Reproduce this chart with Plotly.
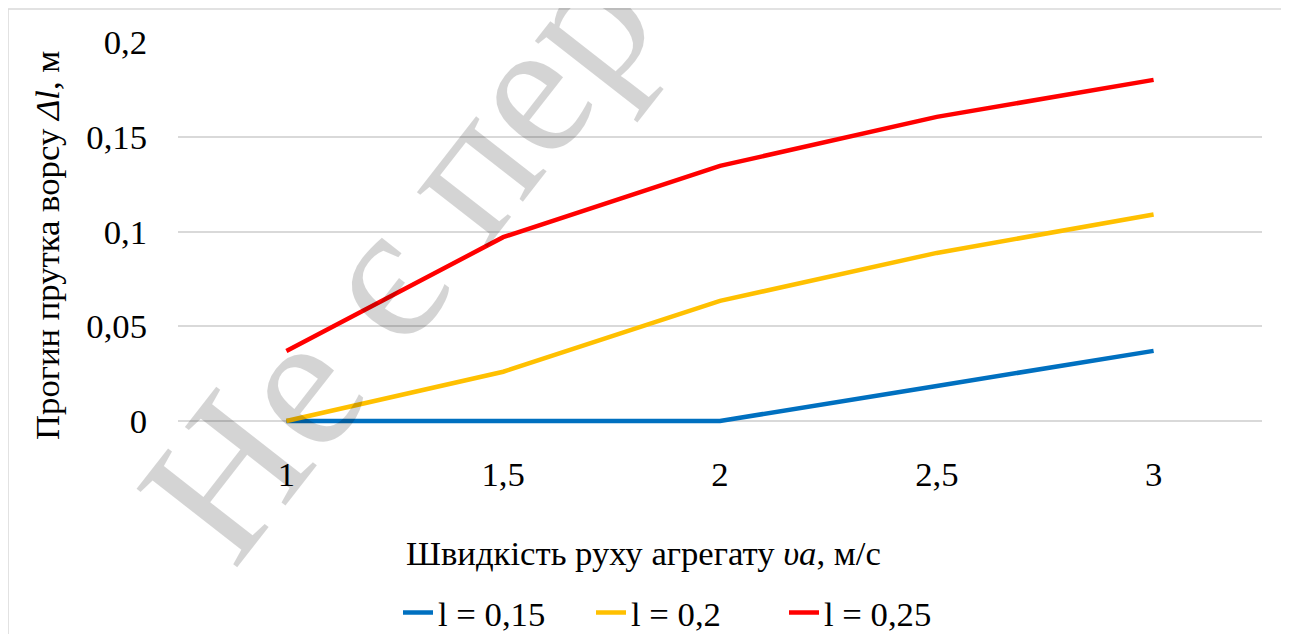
import plotly.graph_objects as go

speed = [1, 1.5, 2, 2.5, 3]
speed_labels = ["1", "1,5", "2", "2,5", "3"]
l_015 = [0, 0, 0, 0.0185, 0.037]
l_020 = [0, 0.026, 0.0634, 0.0887, 0.109]
l_025 = [0.037, 0.097, 0.1346, 0.1605, 0.18]
series_names = ["l = 0,15", "l = 0,2", "l = 0,25"]
y_ticks = [0, 0.05, 0.1, 0.15, 0.2]
y_tick_labels = ["0", "0,05", "0,1", "0,15", "0,2"]

colors = ["#0070C0", "#FFC000", "#FF0000"]
FONT = "Liberation Serif, Times New Roman, serif"
FS = 34.7

OFF = 8  # page body margin offset of the figure in the window
W, H = 1289, 634
# plot area in window (screen) pixels; y=0 sits at 421, 3px extra below so the
# zero line is not half clipped
SX0, SX1, SY0, Y0PIX = 178, 1262, 42, 421
EXTRA = 3
SY1 = Y0PIX + EXTRA
YMAX = 0.2
YMIN = -EXTRA * YMAX / (Y0PIX - SY0)
L = SX0 - OFF
R = W - (SX1 - OFF)
T = SY0 - OFF
B = H - (SY1 - OFF)


def px(xs):
    return (xs - SX0) / (SX1 - SX0)


def py(ys):
    return (SY1 - ys) / (SY1 - SY0)


fig = go.Figure()
for name, vals, c in zip(series_names, [l_015, l_020, l_025], colors):
    fig.add_trace(go.Scatter(x=speed, y=vals, mode="lines", name=name,
                             line=dict(color=c, width=4.5)))

fig.update_layout(
    width=W, height=H,
    margin=dict(l=L, r=R, t=T, b=B),
    paper_bgcolor="white", plot_bgcolor="white",
    font=dict(family=FONT, size=FS, color="black"),
    showlegend=True,
    legend=dict(orientation="h", xref="paper", x=px(398), xanchor="left",
                yref="container", y=1 - (613 - OFF) / H, yanchor="middle",
                font=dict(size=FS), entrywidth=148, traceorder="normal",
                bgcolor="rgba(0,0,0,0)"),
    xaxis=dict(range=[0.75, 3.25], tickvals=speed, ticktext=speed_labels,
               showgrid=False, zeroline=False, showline=False, ticks="",
               ticklabelstandoff=29 - EXTRA, automargin=False),
    yaxis=dict(range=[YMIN, YMAX], tickvals=y_ticks, ticktext=y_tick_labels,
               showgrid=True, gridcolor="#d9d9d9", gridwidth=1.5,
               zeroline=False, showline=False, ticks="",
               ticklabelstandoff=30, automargin=False),
    shapes=[dict(type="rect", xref="paper", yref="paper",
                 x0=px(8), x1=px(1400), y0=py(9), y1=py(700),
                 line=dict(color="#d9d9d9", width=1.5), layer="below")],
    annotations=[
        dict(text="Швидкість руху агрегату <i>υa</i>, м/с", xref="paper", yref="paper",
             x=px(643), y=py(553), xanchor="center", yanchor="middle", showarrow=False,
             font=dict(size=FS)),
        dict(text="Прогин прутка ворсу <i>Δl</i>, м", xref="paper", yref="paper",
             x=px(47), y=py(246), xanchor="center", yanchor="middle", showarrow=False,
             textangle=-90, font=dict(size=FS)),
        dict(text="Не є пер", xref="paper", yref="paper",
             x=px(396), y=py(257), xanchor="center", yanchor="middle", showarrow=False,
             textangle=-52, font=dict(size=195, color="rgba(0,0,0,0.17)")),
    ],
)

fig.write_html("out.html")
